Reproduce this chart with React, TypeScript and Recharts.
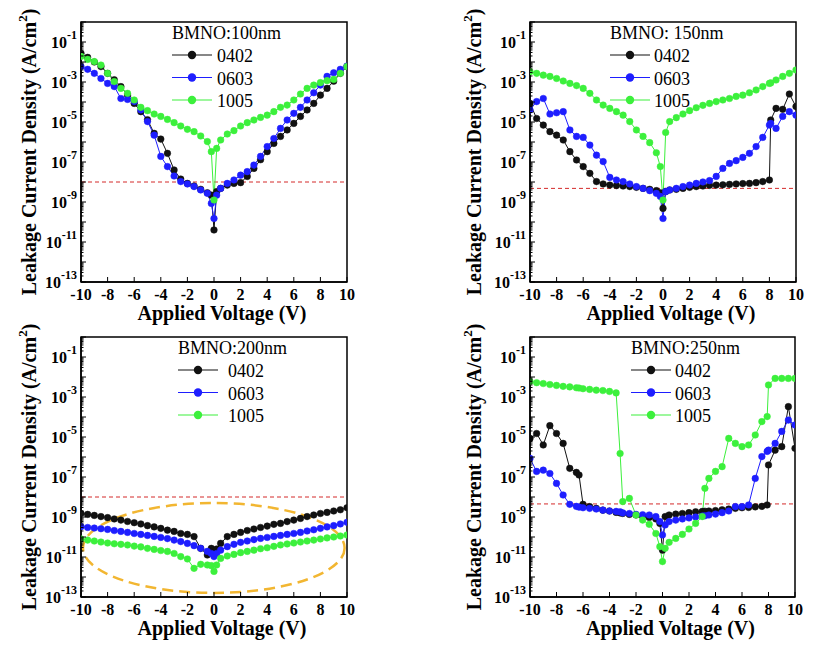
import { LineChart, Line, XAxis, YAxis, ReferenceLine, ReferenceArea, Legend } from 'recharts';

const SERIF = "'Liberation Serif', 'Times New Roman', serif";
const COLORS = ['#111111', '#1e1eff', '#3cf03c'];
const sampleNames = ['0402', '0603', '1005'];

const xTicks = [-10, -8, -6, -4, -2, 0, 2, 4, 6, 8, 10];
const decades = [-13, -12, -11, -10, -9, -8, -7, -6, -5, -4, -3, -2, -1];
const minorSteps = [1, 2, 3, 4, 5, 6, 7, 8, 9];
const yTicks = [...decades.flatMap((d) => minorSteps.map((k) => k * 10 ** d)), 1];

// BMNO 100 nm
const volts100 = [-10, -9.5, -9, -8.5, -8, -7.5, -7, -6.5, -6, -5.5, -5, -4.5, -4, -3.5, -3, -2.5, -2, -1.5, -1, -0.5, -0.2, 0, 0.2, 0.5, 1, 1.5, 2, 2.5, 3, 3.5, 4, 4.5, 5, 5.5, 6, 6.5, 7, 7.5, 8, 8.5, 9, 9.5, 10];
const j100_0402 = [2.7e-2, 1.7e-2, 1e-2, 5.9e-3, 2.7e-3, 1.3e-3, 5.9e-4, 2.2e-4, 8.5e-5, 3.3e-5, 1.3e-5, 2.7e-6, 1.4e-6, 2.7e-7, 4e-8, 1.4e-8, 8.5e-9, 6.3e-9, 4.3e-9, 2.9e-9, 2.2e-9, 4e-11, 3.3e-9, 4.8e-9, 7e-9, 8.5e-9, 9.3e-9, 1.9e-8, 4.8e-8, 1.3e-7, 3.3e-7, 8.5e-7, 1.9e-6, 4e-6, 8.5e-6, 1.9e-5, 4e-5, 8.5e-5, 2.2e-4, 4.8e-4, 1.1e-3, 2.7e-3, 5.9e-3];
const j100_0603 = [5.9e-3, 4.3e-3, 2.7e-3, 1.5e-3, 8.5e-4, 5.9e-4, 1.5e-4, 1.35e-4, 1.05e-4, 4e-5, 1.05e-5, 2.2e-6, 1.9e-7, 5.9e-8, 2e-8, 1.05e-8, 8e-9, 5.9e-9, 4e-9, 2.7e-9, 8.5e-10, 1.5e-10, 2.2e-9, 4.8e-9, 8.5e-9, 1.26e-8, 2.2e-8, 3.3e-8, 7e-8, 1.9e-7, 5.9e-7, 1.5e-6, 4.8e-6, 1.26e-5, 2.7e-5, 5.4e-5, 1.26e-4, 2.9e-4, 7e-4, 1.9e-3, 2.9e-3, 4.3e-3, 6.3e-3];
const j100_1005 = [1.9e-2, 1.35e-2, 1.05e-2, 7e-3, 2.7e-3, 1.05e-3, 4.8e-4, 2.7e-4, 1.26e-4, 5.4e-5, 3.7e-5, 2.5e-5, 1.9e-5, 1.35e-5, 9.3e-6, 6.3e-6, 4.3e-6, 3.3e-6, 2e-6, 1.05e-6, 3.3e-7, 1.26e-9, 4.8e-7, 1.26e-6, 2.5e-6, 3.7e-6, 6.3e-6, 9.3e-6, 1.26e-5, 1.7e-5, 2.2e-5, 3.3e-5, 5.4e-5, 7e-5, 1.26e-4, 2.5e-4, 4.8e-4, 7e-4, 9.3e-4, 1.17e-3, 1.35e-3, 2.7e-3, 5.9e-3];

// BMNO 150 nm
const volts150 = [-10, -9.5, -9, -8.5, -8, -7.5, -7, -6.5, -6, -5.5, -5, -4.5, -4, -3.5, -3, -2.5, -2, -1.5, -1, -0.5, -0.2, 0, 0.2, 0.5, 1, 1.5, 2, 2.5, 3, 3.5, 4, 4.5, 5, 5.5, 6, 6.5, 7, 7.5, 8, 8.1, 8.5, 9, 9.5, 10];
const j150_0402 = [8.5e-5, 1.5e-5, 7e-6, 3.3e-6, 2.2e-6, 1.26e-6, 3.3e-7, 1.26e-7, 5.9e-8, 2.7e-8, 1.05e-8, 8e-9, 7e-9, 6.6e-9, 6.3e-9, 5.9e-9, 5.4e-9, 4.8e-9, 4.3e-9, 3.7e-9, 2.9e-9, 4.8e-10, 3.3e-9, 4e-9, 4.3e-9, 4.8e-9, 5.4e-9, 5.9e-9, 6.3e-9, 6.8e-9, 7e-9, 7.2e-9, 7.6e-9, 8e-9, 8.3e-9, 8.5e-9, 9.3e-9, 1.05e-8, 1.26e-8, 1.26e-5, 4.8e-5, 4.3e-5, 2.5e-4, 5.9e-5];
const j150_0603 = [4e-5, 1.05e-4, 1.5e-4, 2.5e-5, 2.9e-5, 3.3e-5, 4e-6, 1.9e-6, 1.7e-6, 7e-7, 2.2e-7, 1.05e-7, 1.7e-8, 1.26e-8, 1.05e-8, 8e-9, 5.9e-9, 4.8e-9, 3.7e-9, 2.7e-9, 1.9e-9, 1.5e-10, 3.3e-9, 4e-9, 4.8e-9, 5.9e-9, 7e-9, 8.5e-9, 1e-8, 1.17e-8, 1.9e-8, 4.8e-8, 8.5e-8, 1.17e-7, 1.7e-7, 2.7e-7, 5.9e-7, 1.7e-6, 7e-6, 8.5e-6, 4.8e-6, 1.9e-5, 3.3e-5, 2.2e-5];
const j150_1005 = [3.3e-3, 2.7e-3, 2.2e-3, 1.9e-3, 1.5e-3, 1.12e-3, 8.5e-4, 6.6e-4, 4.8e-4, 2.7e-4, 1.26e-4, 7e-5, 4.8e-5, 3.3e-5, 2.2e-5, 1.05e-5, 4e-6, 1.9e-6, 9.3e-7, 2.9e-7, 5.9e-8, 1.26e-9, 3e-6, 1.05e-5, 1.65e-5, 2.5e-5, 3.7e-5, 5.2e-5, 6.8e-5, 8.5e-5, 1.05e-4, 1.26e-4, 1.5e-4, 1.9e-4, 2.2e-4, 2.9e-4, 4e-4, 5.9e-4, 8.5e-4, 9e-4, 1.26e-3, 1.9e-3, 2.7e-3, 4e-3];

// BMNO 200 nm
const volts200 = [-10, -9.5, -9, -8.5, -8, -7.5, -7, -6.5, -6, -5.5, -5, -4.5, -4, -3.5, -3, -2.5, -2, -1.5, -1, -0.5, -0.2, 0, 0.2, 0.5, 1, 1.5, 2, 2.5, 3, 3.5, 4, 4.5, 5, 5.5, 6, 6.5, 7, 7.5, 8, 8.5, 9, 9.5, 10];
const j200_0402 = [1.5e-9, 1.35e-9, 1.2e-9, 1.05e-9, 9.3e-10, 8e-10, 7e-10, 6e-10, 5.2e-10, 4.5e-10, 3.7e-10, 3.2e-10, 2.7e-10, 2.2e-10, 1.9e-10, 1.5e-10, 1.35e-10, 1.05e-10, 2.7e-11, 1.26e-11, 2.7e-11, 1.9e-11, 2.5e-11, 4.8e-11, 1.05e-10, 1.35e-10, 1.7e-10, 2.1e-10, 2.5e-10, 3e-10, 3.5e-10, 4.3e-10, 4.8e-10, 5.9e-10, 7e-10, 8.5e-10, 1.05e-9, 1.26e-9, 1.5e-9, 1.7e-9, 2e-9, 2.3e-9, 2.9e-9];
const j200_0603 = [3.3e-10, 3e-10, 2.8e-10, 2.6e-10, 2.4e-10, 2.1e-10, 1.9e-10, 1.7e-10, 1.5e-10, 1.35e-10, 1.2e-10, 1.07e-10, 9.5e-11, 8.3e-11, 7e-11, 5.9e-11, 4.8e-11, 3.7e-11, 2.7e-11, 1.9e-11, 1.5e-11, 1.05e-11, 1.5e-11, 2.2e-11, 3.3e-11, 4.3e-11, 5.4e-11, 6.3e-11, 7.4e-11, 8.5e-11, 9.5e-11, 1.07e-10, 1.2e-10, 1.35e-10, 1.5e-10, 1.7e-10, 2e-10, 2.3e-10, 2.7e-10, 3.2e-10, 3.7e-10, 4.5e-10, 5.4e-10];
const j200_1005 = [8e-11, 7e-11, 6.3e-11, 5.6e-11, 5e-11, 4.6e-11, 4.3e-11, 4e-11, 3.5e-11, 3.2e-11, 2.7e-11, 2.4e-11, 2.1e-11, 1.9e-11, 1.5e-11, 1.05e-11, 8e-12, 2.7e-12, 4.3e-12, 4e-12, 3.7e-12, 1.9e-12, 4e-12, 8.5e-12, 1.12e-11, 1.35e-11, 1.65e-11, 1.9e-11, 2.2e-11, 2.6e-11, 2.9e-11, 3.4e-11, 4e-11, 4.5e-11, 5e-11, 5.6e-11, 6.3e-11, 7e-11, 8e-11, 9e-11, 1e-10, 1.12e-10, 1.26e-10];

// BMNO 250 nm
const volts250 = [-10, -9.5, -9, -8.5, -8, -7.5, -7, -6.5, -6.3, -6, -5.5, -5, -4.5, -4, -3.5, -3.2, -3, -2.5, -2, -1.5, -1, -0.5, -0.2, 0, 0.2, 0.5, 1, 1.5, 2, 2.5, 3, 3.2, 3.5, 4, 4.5, 5, 5.5, 6, 6.5, 7, 7.5, 7.9, 8, 8.5, 9, 9.5, 10];
const j250_0402 = [8.5e-6, 1.5e-5, 4e-6, 3.7e-5, 1.5e-5, 4.8e-6, 2.7e-7, 1.7e-7, 1.26e-7, 4.3e-9, 3.3e-9, 2.7e-9, 2.2e-9, 2e-9, 1.7e-9, 1.6e-9, 1.5e-9, 1.35e-9, 1.26e-9, 1.12e-9, 9.5e-10, 8e-10, 4.8e-10, 2.2e-11, 1.05e-9, 1.26e-9, 1.4e-9, 1.5e-9, 1.65e-9, 1.8e-9, 1.9e-9, 1.95e-9, 2e-9, 2.1e-9, 2.3e-9, 2.5e-9, 2.7e-9, 2.9e-9, 3e-9, 3.2e-9, 3.4e-9, 4e-9, 4e-7, 2.2e-6, 3.3e-6, 3.3e-4, 2.7e-6];
const j250_0603 = [8.5e-7, 1.9e-7, 2.2e-7, 1.5e-7, 4.8e-8, 1.26e-8, 4.3e-9, 3.4e-9, 3.1e-9, 2.9e-9, 2.7e-9, 2.5e-9, 2.2e-9, 2e-9, 1.9e-9, 1.8e-9, 1.6e-9, 1.5e-9, 1.35e-9, 1.3e-9, 1.26e-9, 1.05e-9, 5.9e-10, 1.26e-10, 4e-10, 5.9e-10, 7e-10, 8e-10, 9e-10, 1e-9, 1.12e-9, 1.15e-9, 1.26e-9, 1.4e-9, 1.65e-9, 2e-9, 3.3e-9, 3.3e-9, 4e-9, 8.5e-8, 1.05e-6, 1.9e-6, 2.2e-6, 4.8e-6, 1.9e-5, 7e-5, 4e-5];
const j250_1005 = [5.9e-3, 5.2e-3, 4.7e-3, 4.2e-3, 3.8e-3, 3.4e-3, 3.2e-3, 2.9e-3, 2.8e-3, 2.6e-3, 2.4e-3, 2.2e-3, 2.1e-3, 1.9e-3, 1.6e-3, 1.5e-6, 5.9e-9, 8.5e-9, 1.26e-9, 7e-10, 4.3e-10, 1.5e-10, 3.3e-11, 5.9e-12, 2.7e-11, 5.4e-11, 8.5e-11, 1.35e-10, 2.5e-10, 4.8e-10, 1.05e-9, 2.7e-8, 8.5e-8, 1.9e-7, 3.3e-7, 8.5e-6, 4.8e-6, 3.3e-6, 4e-6, 1.26e-5, 5.9e-5, 1.05e-4, 4e-3, 8.5e-3, 8.5e-3, 8.5e-3, 8.5e-3];

// guide lines and the highlighted region of the 200 nm panel
const limit100 = 1e-8;
const limit150 = 4.8e-9;
const limit200 = 1e-8;
const limit250 = 4.5e-9;
const ellipseV = [-9.85, 9.82];
const ellipseJ = [1.6e-13, 5e-9];

const Y_AXIS_W = 60;
const X_AXIS_H = 40;

const toRows = (volts: number[], vals: number[]) => volts.map((v, i) => ({ v, j: vals[i] }));

function XTick(props: any) {
  const { x, y, payload } = props;
  return (
    <g>
      <line x1={x} x2={x} y1={y} y2={y - 5} stroke="#000" strokeWidth={1} />
      <text x={x} y={y + 18} textAnchor="middle" fontFamily={SERIF} fontWeight="bold" fontSize={16} fill="#000">
        {payload.value}
      </text>
    </g>
  );
}

function YTick(props: any) {
  const { x, y, payload, gap } = props;
  const e = Math.log10(payload.value);
  const n = Math.round(e);
  const major = Math.abs(e - n) < 1e-6;
  const ax = x + gap;
  return (
    <g>
      <line x1={ax} x2={ax + (major ? 5 : 2.5)} y1={y} y2={y} stroke="#000" strokeWidth={1} />
      {major && n % 2 !== 0 && (
        <text x={x} y={y + 6} textAnchor="end" fontFamily={SERIF} fontWeight="bold" fontSize={16} fill="#000">
          10<tspan dy={-9} fontSize={12}>{n}</tspan>
        </text>
      )}
    </g>
  );
}

function makeLegend(title: string, textGap: number) {
  return (props: any) => {
    const items = props.payload || [];
    return (
      <svg width={160} height={100} style={{ display: 'block', overflow: 'visible' }}>
        <text x={0} y={17} fontFamily={SERIF} fontSize={18} fill="#000">{title}</text>
        {items.map((item: any, i: number) => {
          const cy = 33 + i * 22.5;
          return (
            <g key={item.value}>
              <line x1={0} x2={40} y1={cy} y2={cy} stroke={item.color} strokeWidth={1.2} />
              <circle cx={20} cy={cy} r={4.2} fill={item.color} />
              <text x={40 + textGap} y={cy + 7} fontFamily={SERIF} fontSize={18} fill="#000">{item.value}</text>
            </g>
          );
        })}
      </svg>
    );
  };
}

interface PanelProps {
  title: string;
  volts: number[];
  series: number[][];
  limit: number;
  left: number;
  top: number;
  plotLeft: number;
  plotRight: number;
  titleGap: number;
  legendLeft: number;
  legendGap: number;
  ellipse?: boolean;
}

function Panel({ title, volts, series, limit, left, top, plotLeft, plotRight, titleGap, legendLeft, legendGap, ellipse }: PanelProps) {
  const W = 408;
  const H = 325;
  const margin = { top: 22, right: W - plotRight, bottom: 3, left: plotLeft - Y_AXIS_W };
  return (
    <div style={{ position: 'absolute', left, top }}>
      <LineChart width={W} height={H} margin={margin}>
        <XAxis
          type="number"
          dataKey="v"
          domain={[-10, 10]}
          ticks={xTicks}
          interval={0}
          allowDataOverflow
          height={X_AXIS_H}
          tickSize={0}
          tickMargin={0}
          tickLine={false}
          axisLine={{ stroke: '#000', strokeWidth: 1.5 }}
          tick={(p: any) => <XTick {...p} />}
          label={(p: any) => {
            const vb = p.viewBox;
            return (
              <text x={vb.x + vb.width / 2 + 8} y={vb.y + 38} textAnchor="middle" fontFamily={SERIF} fontWeight="bold" fontSize={20} fill="#000">
                Applied Voltage (V)
              </text>
            );
          }}
        />
        <YAxis
          type="number"
          scale="log"
          domain={[1e-13, 1]}
          ticks={yTicks}
          interval={0}
          allowDataOverflow
          width={Y_AXIS_W}
          tickSize={0}
          tickMargin={4}
          tickLine={false}
          axisLine={{ stroke: '#000', strokeWidth: 1.5 }}
          tick={(p: any) => <YTick {...p} gap={4} />}
          label={(p: any) => {
            const vb = p.viewBox;
            const bx = vb.x + vb.width - titleGap;
            const cy = vb.y + vb.height / 2;
            return (
              <text transform={`translate(${bx},${cy}) rotate(-90)`} x={0} y={0} textAnchor="middle" fontFamily={SERIF} fontWeight="bold" fontSize={20} fill="#000">
                Leakage Current Density (A/cm<tspan dy={-9} fontSize={13}>2</tspan><tspan dy={9}>)</tspan>
              </text>
            );
          }}
        />
        <ReferenceArea x1={-10} x2={10} y1={1e-13} y2={1} fill="none" stroke="#000" strokeWidth={1.5} ifOverflow="visible" />
        <ReferenceLine y={limit} stroke="#d42a2a" strokeWidth={1} strokeDasharray="4 3" />
        {series.map((vals, i) => (
          <Line
            key={sampleNames[i]}
            data={toRows(volts, vals)}
            dataKey="j"
            name={sampleNames[i]}
            type="linear"
            stroke={COLORS[i]}
            strokeWidth={1}
            dot={{ r: 3.3, fill: COLORS[i], stroke: COLORS[i], strokeWidth: 0.5 }}
            isAnimationActive={false}
          />
        ))}
        {ellipse && (
          <ReferenceArea
            x1={ellipseV[0]}
            x2={ellipseV[1]}
            y1={ellipseJ[0]}
            y2={ellipseJ[1]}
            ifOverflow="visible"
            shape={(p: any) => (
              <ellipse
                cx={p.x + p.width / 2}
                cy={p.y + p.height / 2}
                rx={p.width / 2}
                ry={p.height / 2}
                fill="none"
                stroke="#f2b631"
                strokeWidth={2.5}
                strokeDasharray="11 6"
              />
            )}
          />
        )}
        <Legend
          layout="horizontal"
          verticalAlign="middle"
          align="center"
          content={makeLegend(title, legendGap)}
          wrapperStyle={{ left: legendLeft, top: 22, width: 160 }}
        />
      </LineChart>
    </div>
  );
}

export default function App() {
  return (
    <div style={{ position: 'absolute', left: 0, top: 0, width: 816, height: 650, background: '#fff' }}>
      <Panel title="BMNO:100nm" volts={volts100} series={[j100_0402, j100_0603, j100_1005]} limit={limit100}
        left={0} top={0} plotLeft={81} plotRight={347} titleGap={45} legendLeft={172} legendGap={5} />
      <Panel title="BMNO: 150nm" volts={volts150} series={[j150_0402, j150_0603, j150_1005]} limit={limit150}
        left={408} top={0} plotLeft={122} plotRight={388} titleGap={49} legendLeft={202} legendGap={4} />
      <Panel title="BMNO:200nm" volts={volts200} series={[j200_0402, j200_0603, j200_1005]} limit={limit200}
        left={0} top={315} plotLeft={81} plotRight={347} titleGap={45} legendLeft={178} legendGap={10} ellipse />
      <Panel title="BMNO:250nm" volts={volts250} series={[j250_0402, j250_0603, j250_1005]} limit={limit250}
        left={408} top={315} plotLeft={122} plotRight={387} titleGap={49} legendLeft={223} legendGap={4} />
    </div>
  );
}
